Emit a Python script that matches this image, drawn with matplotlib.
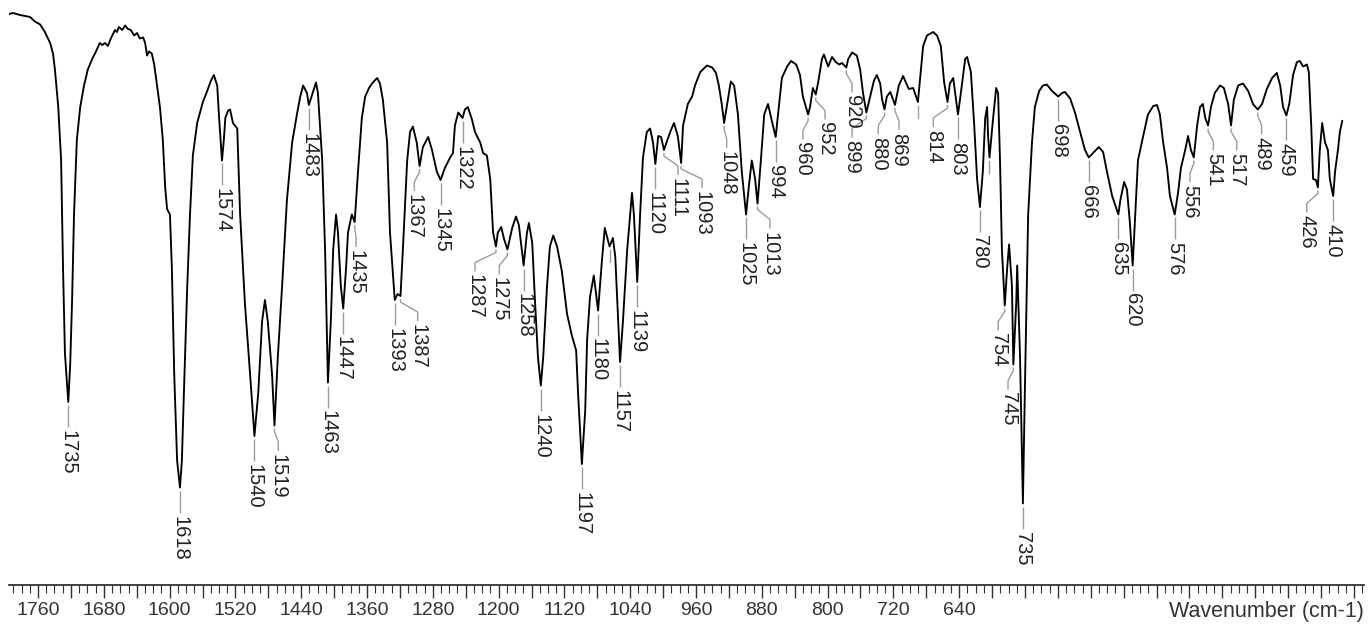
import numpy as np
import matplotlib
matplotlib.use("Agg")
import matplotlib.pyplot as plt
from matplotlib.ticker import MultipleLocator, FuncFormatter

# ---------------- data ----------------
wavenumber = [
    1797, 1793, 1785.5, 1775, 1770, 1764.5, 1759.5, 1754, 1751, 1749, 1745.5, 1742.5, 1740.5, 1738.5,
    1735, 1733, 1731, 1729, 1726, 1722.5, 1718.5, 1714.5, 1710, 1706, 1702, 1699.5, 1696.5, 1693.5,
    1690, 1686, 1684, 1682, 1678.5, 1675.5, 1672.5, 1669.5, 1666, 1663, 1660, 1656.5, 1654.5, 1652.5,
    1650.5, 1647.5, 1645, 1642, 1639, 1636, 1633.5, 1631.5, 1628.5, 1626.5, 1624, 1621, 1618, 1616,
    1614, 1610.5, 1607.5, 1604.5, 1600, 1597, 1594, 1589.5, 1585.5, 1582.5, 1579, 1577, 1574, 1572,
    1570.5, 1567.5, 1565.5, 1562.5, 1558, 1555, 1550, 1544.5, 1540, 1536, 1532, 1529, 1526, 1521.5,
    1519, 1515.5, 1511, 1506, 1500.5, 1495.5, 1492, 1489, 1485, 1483, 1479.5, 1475.5, 1473.5, 1469,
    1466, 1463, 1460, 1457.5, 1454.5, 1452.5, 1449.5, 1447, 1444, 1442, 1438, 1435, 1431.5, 1427.5,
    1424, 1420, 1416, 1411.5, 1408.5, 1405.5, 1401, 1398, 1393, 1390, 1387, 1384.5, 1380, 1377, 1374,
    1370, 1367, 1363.5, 1358, 1354, 1349, 1345, 1340.5, 1335, 1332, 1330, 1326.5, 1322, 1319.5,
    1316.5, 1312, 1309, 1303.5, 1300.5, 1296.5, 1293, 1290, 1287, 1285, 1281.5, 1278.5, 1275, 1270,
    1266, 1263, 1258, 1254.5, 1252.5, 1249, 1246, 1243, 1240, 1237.5, 1233.5, 1230.5, 1227, 1223,
    1218, 1212.5, 1207.5, 1203, 1201, 1197, 1193.5, 1191.5, 1188.5, 1184.5, 1180, 1176, 1173, 1170,
    1168, 1164.5, 1162, 1159, 1157, 1154, 1149.5, 1144.5, 1142.5, 1139, 1136, 1133, 1129, 1125.5,
    1122.5, 1120, 1117, 1114, 1111, 1108, 1104.5, 1100.5, 1096.5, 1093, 1091, 1086, 1081.5, 1078.5,
    1073, 1066, 1060.5, 1056.5, 1053.5, 1050.5, 1048, 1044, 1041, 1037.5, 1033.5, 1029.5, 1025, 1022,
    1019, 1015.5, 1013, 1009.5, 1006, 1002, 998, 994, 991.5, 987.5, 982, 978, 972.5, 968.5, 965.5,
    960, 958, 955, 952, 949.5, 945.5, 943.5, 939, 935, 931, 927.5, 924.5, 920, 918, 914, 909, 905.5,
    902.5, 899, 895, 891, 888, 884.5, 882.5, 880, 877.5, 874, 871, 869, 865, 860.5, 858.5, 854.5,
    850, 847, 845, 842, 839.5, 835.5, 829, 825, 821, 817.5, 814, 811.5, 808, 806, 803, 799, 795.5,
    793.5, 789.5, 786, 783, 780, 777, 774.5, 772.5, 771.5, 770, 766.5, 763, 761, 759, 757, 754,
    751.5, 749.5, 746.5, 745, 742, 741, 738, 735, 733, 729.5, 725.5, 722.5, 718, 714, 710, 704.5,
    698, 694, 691, 685.5, 680.5, 675, 670, 666, 661.5, 655.5, 651, 647, 641.5, 635, 633, 629, 626,
    623, 620, 614.5, 609, 604, 598.5, 594.5, 591.5, 588.5, 584, 581, 576, 572.5, 569.5, 565, 562,
    559, 556, 552.5, 549.5, 546.5, 544, 541, 538, 534, 528.5, 524.5, 520, 517, 514, 509.5, 504.5,
    499, 494, 489, 484.5, 479.5, 474, 469, 465.5, 462.5, 459, 456, 452, 448, 445, 441.5, 437.5,
    435.5, 433, 431, 428, 426, 424, 421.5, 418.5, 415.5, 413.5, 410, 408, 405, 403, 400.5,
]
transmittance = [
    99.2, 99.4, 99.0, 98.6, 97.7, 97.1, 95.6, 93.4, 91.3, 88.1, 80.6, 69.9, 48.4, 31.3,
    21.6, 29.1, 42.0, 59.1, 74.1, 80.6, 84.9, 88.1, 90.2, 91.7, 93.4, 93.0, 93.4, 92.8,
    94.5, 96.0, 95.6, 96.6, 96.0, 96.9, 96.2, 96.0, 94.9, 95.4, 94.3, 94.5, 93.4, 90.9,
    91.7, 91.3, 89.1, 84.9, 80.6, 74.1, 64.5, 60.2, 59.1, 48.4, 27.0, 9.9, 4.5, 9.9,
    22.7, 44.1, 59.1, 70.9, 77.4, 79.5, 81.6, 83.8, 85.9, 87.0, 84.9, 78.4, 69.9, 74.1,
    78.4, 79.9, 80.1, 77.4, 76.3, 59.1, 41.4, 27.0, 14.8, 23.4, 37.7, 42.0, 37.7, 27.0,
    16.9, 30.6, 44.8, 61.9, 73.5, 79.1, 82.7, 84.9, 83.4, 81.0, 83.1, 85.5, 83.4, 69.9,
    52.1, 25.5, 37.7, 52.1, 59.1, 55.5, 44.8, 40.3, 48.4, 55.5, 59.1, 57.6, 67.7, 78.4,
    82.7, 84.4, 85.5, 86.4, 85.3, 82.1, 73.5, 55.5, 42.0, 43.2, 42.8, 52.1, 69.9, 75.6, 76.7,
    73.5, 68.8, 72.6, 74.6, 72.0, 67.7, 66.0, 68.4, 70.5, 71.4, 76.9, 79.5, 78.4, 80.1,
    80.6, 78.0, 75.6, 73.5, 71.4, 70.9, 66.2, 55.5, 52.7, 55.5, 56.6, 54.2, 52.1, 56.4,
    58.7, 57.0, 48.9, 55.5, 57.4, 53.4, 41.4, 30.6, 24.9, 30.6, 44.8, 52.7, 54.9, 52.7,
    47.8, 39.2, 34.9, 31.9, 23.4, 9.2, 19.9, 34.1, 42.6, 46.9, 39.9, 49.9, 56.4, 54.2,
    52.7, 54.4, 50.6, 37.7, 29.6, 37.7, 52.1, 63.4, 59.1, 45.6, 59.1, 70.5, 75.6, 76.3,
    73.5, 69.2, 74.8, 74.6, 72.0, 73.7, 75.6, 77.4, 74.8, 69.4, 76.9, 81.2, 82.7, 84.9,
    87.6, 88.9, 88.5, 87.4, 84.9, 81.2, 77.4, 82.1, 85.7, 84.9, 79.1, 67.7, 59.1, 64.9,
    69.9, 66.2, 61.3, 69.9, 79.1, 81.2, 77.8, 74.6, 79.1, 86.4, 88.7, 89.8, 89.1, 87.0, 82.7,
    79.1, 80.6, 84.4, 83.1, 85.5, 90.2, 91.1, 88.7, 90.6, 89.6, 89.1, 89.4, 88.5, 90.2, 91.5, 90.9, 88.1,
    83.4, 79.5, 82.7, 85.9, 87.0, 85.3, 82.1, 80.1, 82.7, 83.6, 82.1, 81.0, 84.9, 86.8, 85.9, 84.2,
    84.4, 82.7, 81.6, 87.6, 92.8, 94.9, 95.6, 94.9, 92.8, 85.5, 81.6, 85.3, 86.4, 83.4, 79.1, 84.9, 90.2,
    90.6, 87.6, 76.9, 66.2, 60.6, 67.7, 78.4, 80.6, 74.8, 70.5, 77.8, 84.4, 83.4, 69.9, 52.1, 40.9,
    48.4, 53.1, 44.8, 29.1, 41.4, 48.9, 30.6, 1.3, 23.4, 59.1, 73.5, 80.6, 83.8, 84.9, 85.1, 83.8,
    82.7, 83.4, 83.6, 82.3, 79.5, 75.6, 72.0, 70.5, 71.4, 72.6, 71.6, 67.7, 62.8, 59.1, 61.9, 65.6, 64.1,
    57.6, 48.9, 69.9, 74.8, 79.1, 80.8, 81.0, 79.1, 74.1, 68.4, 62.8, 59.1, 63.4, 68.4, 72.0, 74.8,
    72.0, 70.5, 76.9, 80.6, 81.2, 78.4, 76.9, 80.6, 83.4, 84.9, 84.4, 81.2, 76.9, 82.1, 84.9, 85.3,
    83.8, 81.2, 80.1, 81.2, 84.2, 86.4, 87.4, 84.9, 80.6, 78.9, 81.2, 87.0, 89.6, 89.8, 88.7, 89.1,
    87.6, 76.9, 66.2, 66.0, 64.5, 72.0, 77.4, 73.5, 72.0, 66.2, 62.8, 67.7, 72.0, 75.6, 77.8,
]

peak_labels = [1735, 1618, 1574, 1540, 1519, 1483, 1463, 1447, 1435, 1393, 1387, 1367, 1345,
               1322, 1287, 1275, 1258, 1240, 1197, 1180, 1157, 1139, 1120, 1111, 1093, 1048,
               1025, 1013, 994, 960, 952, 920, 899, 880, 869, 814, 803, 780, 754, 745, 735,
               698, 666, 635, 620, 576, 556, 541, 517, 489, 459, 426, 410]
# wavenumber at which a label's text is centred, where it was moved off its peak
label_shift = {1519: 1515.0, 1435: 1433.5, 1387: 1369.0, 1367: 1372.5, 1287: 1309.0,
               1275: 1283.5, 1111: 1096.3, 1093: 1071.2, 1048: 1045.3, 1013: 1000.0,
               960: 965.4, 952: 942.3, 920: 914.0, 899: 914.0, 880: 886.5, 869: 864.8,
               814: 828.9, 754: 760.8, 745: 750.6, 556: 560.0, 541: 535.5, 517: 511.0,
               489: 484.9, 426: 437.7}
unlabeled_marks = [1168, 845, 770]

# bottom scale (drawn with its own range, as in the picture)
tick_labels = [1760, 1680, 1600, 1520, 1440, 1360, 1280, 1200, 1120, 1040, 960, 880, 800, 720, 640]
scale_range = (1795.3, 147.8)
x_title = "Wavenumber (cm-1)"

# ---------------- figure ----------------
W, H, DPI = 1372, 626, 100
plt.rcParams["font.family"] = ["Liberation Sans", "DejaVu Sans"]
fig = plt.figure(figsize=(W / DPI, H / DPI), dpi=DPI)

axis_y = 585  # pixel row of the scale line, from the top
axb = fig.add_axes([9 / W, (H - axis_y) / H, (1364 - 9) / W, 0.001])
ax = fig.add_axes([9 / W, (H - axis_y) / H, (1364 - 9) / W, axis_y / H])
ax.patch.set_visible(False)
ax.set_xlim(1797.1, 377.7)
ax.set_ylim(102 - axis_y / 5.0, 102)
ax.axis("off")

wn = np.array(wavenumber, dtype=float)
tr = np.array(transmittance, dtype=float)
ax.plot(wn, tr, color="black", lw=1.35, solid_joinstyle="round", zorder=3)

ax_h_px = ax.get_position().height * H
dpy = (ax.get_ylim()[1] - ax.get_ylim()[0]) / ax_h_px

lead_col = "#9b9b9b"
text_col = "#231f20"
fs_peak = 14.5


def peak_at(val):
    m = np.abs(wn - val) <= 3
    idx = np.where(m)[0]
    i = idx[np.argmin(tr[idx])]
    return wn[i], tr[i]


for val in peak_labels:
    xp, yp = peak_at(val)
    xl = label_shift.get(val, xp)
    if val in label_shift:
        xs = [xp, xp, xl, xl]
        ys = [yp - 3 * dpy, yp - 6 * dpy, yp - 16 * dpy, yp - 25 * dpy]
    else:
        xs = [xp, xp]
        ys = [yp - 3 * dpy, yp - 25 * dpy]
    ax.plot(xs, ys, color=lead_col, lw=1.0, zorder=2, solid_capstyle="butt")
    ax.text(xl, yp - 28 * dpy, str(val), rotation=-90, ha="center", va="top",
            fontsize=fs_peak, color=text_col, zorder=4)

for val in unlabeled_marks:
    xp, yp = peak_at(val)
    ax.plot([xp, xp], [yp - 4 * dpy, yp - 16 * dpy], color=lead_col, lw=1.0, zorder=2)

# ---------------- bottom scale ----------------
axb.set_xlim(*scale_range)
axb.set_ylim(0, 1)
for s in ["top", "left", "right"]:
    axb.spines[s].set_visible(False)
axb.spines["bottom"].set_color("#333333")
axb.spines["bottom"].set_linewidth(1.3)
axb.set_yticks([])
axb.xaxis.set_major_locator(MultipleLocator(40))
axb.xaxis.set_major_formatter(
    FuncFormatter(lambda v, pos: str(int(round(v))) if int(round(v)) in tick_labels else ""))
axb.xaxis.set_minor_locator(MultipleLocator(10))
axb.tick_params(axis="x", which="major", direction="out", length=9, width=1.0,
                color="#333333", labelsize=14, labelcolor="#333333", pad=3)
axb.tick_params(axis="x", which="minor", direction="out", length=6, width=0.8, color="#333333")
axb.annotate(x_title, xy=(1.0, 0.0), xycoords="axes fraction", xytext=(0, -11.5),
             textcoords="offset points", ha="right", va="top", fontsize=15.5, color="#333333")

fig.savefig("out.png", dpi=DPI)
